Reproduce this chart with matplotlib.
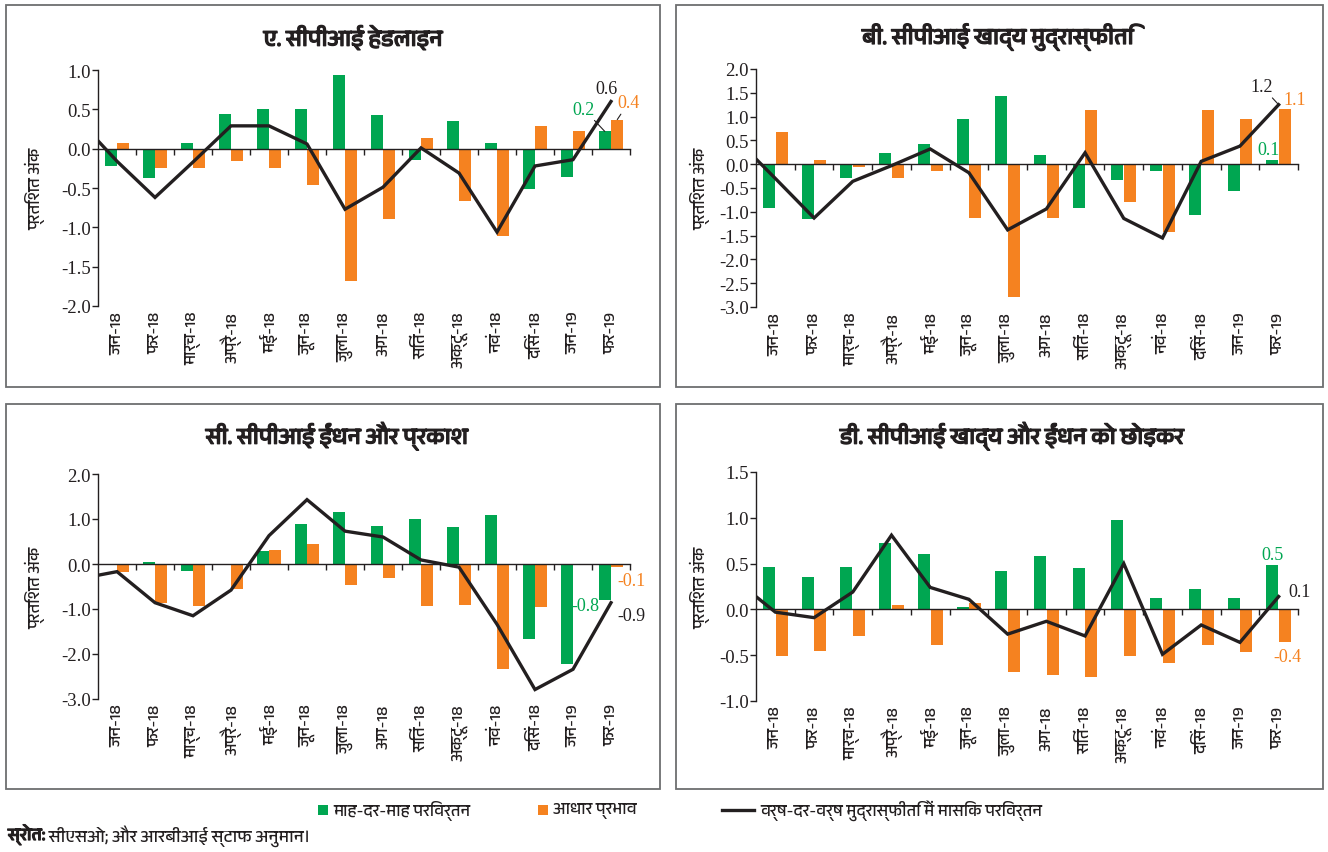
import numpy as np
import matplotlib
matplotlib.use("Agg")
import matplotlib.pyplot as plt
from matplotlib import font_manager as fm
from matplotlib.ft2font import FT2Font
from matplotlib.patches import Rectangle
from matplotlib.lines import Line2D
import matplotlib.transforms as mtransforms
import matplotlib.patheffects as pe
from matplotlib.ticker import FixedLocator, FormatStrFormatter

# ---------------- data ----------------
categories = ["जन-18", "फर-18", "मार्च-18", "अप्रै-18", "मई-18", "जून-18", "जुला-18",
              "अग-18", "सितं-18", "अक्टू-18", "नवं-18", "दिसं-18", "जन-19", "फर-19"]

# A. CPI headline
a_mom = [-0.22, -0.37, 0.07, 0.44, 0.50, 0.50, 0.94, 0.43, -0.15, 0.35, 0.07, -0.51, -0.36, 0.22]
a_base = [0.07, -0.24, -0.24, -0.16, -0.24, -0.46, -1.68, -0.90, 0.14, -0.67, -1.11, 0.29, 0.22, 0.37]
a_yoy_edge = 0.10
a_yoy = [-0.16, -0.62, -0.17, 0.29, 0.29, 0.06, -0.77, -0.49, 0.01, -0.31, -1.06, -0.22, -0.14, 0.60]

# B. CPI food
b_mom = [-0.92, -1.15, -0.29, 0.23, 0.43, 0.94, 1.43, 0.20, -0.92, -0.34, -0.14, -1.07, -0.57, 0.08]
b_base = [0.68, 0.08, -0.06, -0.29, -0.14, -1.12, -2.80, -1.14, 1.14, -0.79, -1.42, 1.14, 0.94, 1.16]
b_yoy_edge = 0.11
b_yoy = [-0.30, -1.13, -0.36, -0.03, 0.32, -0.18, -1.38, -0.94, 0.24, -1.14, -1.55, 0.06, 0.38, 1.25]

# C. CPI fuel and light
c_mom = [0.00, 0.05, -0.15, 0.00, 0.28, 0.88, 1.15, 0.85, 0.99, 0.83, 1.10, -1.66, -2.23, -0.80]
c_base = [-0.18, -0.87, -0.93, -0.56, 0.31, 0.44, -0.47, -0.31, -0.93, -0.91, -2.34, -0.95, 0.00, -0.06]
c_yoy_edge = -0.25
c_yoy = [-0.17, -0.86, -1.15, -0.58, 0.63, 1.43, 0.73, 0.60, 0.09, -0.07, -1.34, -2.79, -2.34, -0.86]

# D. CPI excluding food and fuel
d_mom = [0.46, 0.35, 0.46, 0.72, 0.61, 0.03, 0.42, 0.58, 0.45, 0.98, 0.12, 0.22, 0.12, 0.49]
d_base = [-0.51, -0.45, -0.29, 0.05, -0.39, 0.07, -0.68, -0.72, -0.74, -0.51, -0.59, -0.39, -0.46, -0.36]
d_yoy_edge = 0.14
d_yoy = [-0.03, -0.09, 0.19, 0.81, 0.24, 0.11, -0.27, -0.13, -0.29, 0.50, -0.49, -0.17, -0.36, 0.14]

titles = ["ए. सीपीआई हेडलाइन", "बी. सीपीआई खाद्य मुद्रास्फीति",
          "सी. सीपीआई ईंधन और प्रकाश", "डी. सीपीआई खाद्य और ईंधन को छोड़कर"]
y_ticks_a = [1.0, 0.5, 0.0, -0.5, -1.0, -1.5, -2.0]
y_ticks_b = [2.0, 1.5, 1.0, 0.5, 0.0, -0.5, -1.0, -1.5, -2.0, -2.5, -3.0]
y_ticks_c = [2.0, 1.0, 0.0, -1.0, -2.0, -3.0]
y_ticks_d = [1.5, 1.0, 0.5, 0.0, -0.5, -1.0]
y_label = "प्रतिशत अंक"
legend_labels = ["माह-दर-माह परिवर्तन", "आधार प्रभाव", "वर्ष-दर-वर्ष मुद्रास्फीति में मासिक परिवर्तन"]
source_bold = "स्रोत:"
source_rest = " सीएसओ; और आरबीआई स्टाफ अनुमान।"

# ---------------- fonts ----------------
def find_fonts(ch):
    names = []
    seen = set()
    for f in fm.fontManager.ttflist:
        if f.fname in seen:
            continue
        seen.add(f.fname)
        try:
            cm = FT2Font(f.fname).get_charmap()
        except Exception:
            continue
        if ord(ch) in cm and f.name not in names:
            names.append(f.name)
    names.sort(key=lambda n: (0 if "Devanagari" in n else 1, n))
    return names

deva = find_fonts("क")
DEV = deva[0] if deva else "DejaVu Sans"
FAM = [DEV, "DejaVu Sans"]
NUM = ["Liberation Serif", "DejaVu Serif"]
plt.rcParams["font.family"] = FAM
plt.rcParams["axes.unicode_minus"] = False

GREEN = "#00a651"
ORANGE = "#f58220"
BLACK = "#231f20"
TXT = "#231f20"
FRAME = "#6d6e70"
BOLD = [pe.withStroke(linewidth=0.9, foreground=TXT)]

W, H = 1328, 853
fig = plt.figure(figsize=(W / 100, H / 100), dpi=100)

def fx(px):
    return px / W

def fy(py):
    return 1 - py / H

# frames
frames = [(6, 6, 660, 388), (676, 6, 1323, 388), (6, 405, 660, 790), (676, 405, 1323, 790)]
for (x0, y0, x1, y1) in frames:
    fig.add_artist(Rectangle((fx(x0), fy(y1)), fx(x1) - fx(x0), fy(y0) - fy(y1),
                             transform=fig.transFigure, fill=False, edgecolor=FRAME, lw=1.3))

# axes rectangles in pixels (left, top, right, bottom)
ax_px = [(98, 71, 630, 307), (756, 70, 1298, 308), (98, 475, 630, 700), (756, 473, 1298, 702)]
title_pos = [(353, 38), (998, 38), (337, 437), (1012, 437)]
ylab_x = [35, 700, 35, 700]

panels = [
    (a_mom, a_base, a_yoy_edge, a_yoy, y_ticks_a),
    (b_mom, b_base, b_yoy_edge, b_yoy, y_ticks_b),
    (c_mom, c_base, c_yoy_edge, c_yoy, y_ticks_c),
    (d_mom, d_base, d_yoy_edge, d_yoy, y_ticks_d),
]

x = np.arange(len(categories))
bw = 0.31
axes = []
for k, (mom, base, edge, yoy, yt) in enumerate(panels):
    l, t, r, b = ax_px[k]
    ax = fig.add_axes([fx(l), fy(b), fx(r) - fx(l), fy(t) - fy(b)])
    axes.append(ax)
    ax.bar(x - bw / 2 - 0.01, mom, width=bw, color=GREEN, zorder=2)
    ax.bar(x + bw / 2 + 0.01, base, width=bw, color=ORANGE, zorder=2)
    lx = np.concatenate([[x[0] - 0.5], x])
    ly = np.concatenate([[edge], yoy])
    ax.plot(lx, ly, color=BLACK, lw=2.4, zorder=3, solid_joinstyle="miter")
    ax.set_xlim(-0.5, len(categories) - 0.5)
    ax.set_ylim(min(yt), max(yt))
    ax.set_yticks(yt)
    ax.yaxis.set_major_formatter(FormatStrFormatter("%.1f"))
    for lab in ax.get_yticklabels():
        lab.set_fontfamily(NUM)
    ax.tick_params(axis="y", direction="out", length=4, width=1, colors=TXT,
                   labelsize=13.5, pad=1)
    ax.spines["top"].set_visible(False)
    ax.spines["right"].set_visible(False)
    ax.spines["left"].set_color(TXT)
    ax.spines["bottom"].set_color(TXT)
    ax.spines["left"].set_linewidth(1.0)
    ax.spines["bottom"].set_linewidth(1.0)
    ax.spines["bottom"].set_position(("data", 0))
    ax.spines["bottom"].set_zorder(4)
    ax.xaxis.set_major_locator(FixedLocator(x + 0.5))
    ax.tick_params(axis="x", direction="out", length=4, width=1, colors=TXT, labelbottom=False)
    trans = mtransforms.blended_transform_factory(ax.transData, ax.transAxes)
    for i, c in enumerate(categories):
        ax.text(i, -0.02, c, rotation=90, ha="center", va="top", transform=trans,
                fontsize=12, color=TXT, family=FAM)
    ax.set_facecolor("none")
    # y label
    cy = (t + b) / 2
    fig.text(fx(ylab_x[k]), fy(cy), y_label, rotation=90, ha="center", va="center",
             fontsize=12, color=TXT)
    # title
    tx, ty = title_pos[k]
    fig.text(fx(tx), fy(ty), titles[k], ha="center", va="center", fontsize=16.5,
             fontweight="bold", color=TXT, path_effects=BOLD)

# ---------------- end labels ----------------
last = len(categories) - 1
xg = last - bw / 2 - 0.01
xo = last + bw / 2 + 0.01
lead = dict(arrowstyle="-", color=BLACK, lw=0.8, shrinkA=0, shrinkB=0)

def lab(ax, xv, yv, txt, col, dx, dy, leader=False):
    ax.annotate(txt, (xv, yv), xytext=(dx, dy), textcoords="offset points",
                ha="center", va="center", fontsize=13, color=col, family=NUM,
                arrowprops=lead if leader else None, annotation_clip=False)

axA, axB, axC, axD = axes
lab(axA, last, a_yoy[-1], f"{a_yoy[-1]:.1f}", BLACK, -3, 9)
lab(axA, xg, a_mom[-1], f"{a_mom[-1]:.1f}", GREEN, -15, 16, True)
lab(axA, xo, a_base[-1], f"{a_base[-1]:.1f}", ORANGE, 8, 12, True)

lab(axB, last, b_yoy[-1], f"{b_yoy[-1]:.1f}", BLACK, -12, 13, True)
lab(axB, xo, b_base[-1], f"{np.floor(b_base[-1]*10)/10:.1f}", ORANGE, 7, 7)
lab(axB, xg, b_mom[-1], f"{b_mom[-1]:.1f}", GREEN, -3, 8)

lab(axC, xg, c_mom[-1], f"{c_mom[-1]:.1f}", GREEN, -14, -4)
lab(axC, xo, c_base[-1], f"{c_base[-1]:.1f}", ORANGE, 10, -10)
lab(axC, last, c_yoy[-1], f"{c_yoy[-1]:.1f}", BLACK, 15, -9)

lab(axD, xg, d_mom[-1], f"{d_mom[-1]:.1f}", GREEN, 0, 7)
lab(axD, last, d_yoy[-1], f"{d_yoy[-1]:.1f}", BLACK, 15, 4)
lab(axD, xo, d_base[-1], f"{d_base[-1]:.1f}", ORANGE, 2, -10)

# ---------------- legend ----------------
ly = 811
LFS = 12
fig.add_artist(Rectangle((fx(318), fy(ly + 5)), fx(10), 10 / H, transform=fig.transFigure,
                         facecolor=GREEN, edgecolor="none"))
fig.text(fx(333), fy(ly), legend_labels[0], ha="left", va="center", fontsize=LFS, color=TXT)
fig.add_artist(Rectangle((fx(538), fy(ly + 5)), fx(10), 10 / H, transform=fig.transFigure,
                         facecolor=ORANGE, edgecolor="none"))
fig.text(fx(553), fy(ly), legend_labels[1], ha="left", va="center", fontsize=LFS, color=TXT)
fig.add_artist(Line2D([fx(722), fx(754)], [fy(ly), fy(ly)], transform=fig.transFigure,
                      color=BLACK, lw=2.4))
fig.text(fx(760), fy(ly), legend_labels[2], ha="left", va="center", fontsize=LFS, color=TXT)

# source
t1 = fig.text(fx(8), fy(836), source_bold, ha="left", va="center", fontsize=12.5,
              fontweight="bold", color=TXT, path_effects=BOLD)
fig.canvas.draw()
bb = t1.get_window_extent()
fig.text(bb.x1 / W, fy(836), source_rest, ha="left", va="center", fontsize=12.5, color=TXT)

fig.savefig("out.png", dpi=100)
